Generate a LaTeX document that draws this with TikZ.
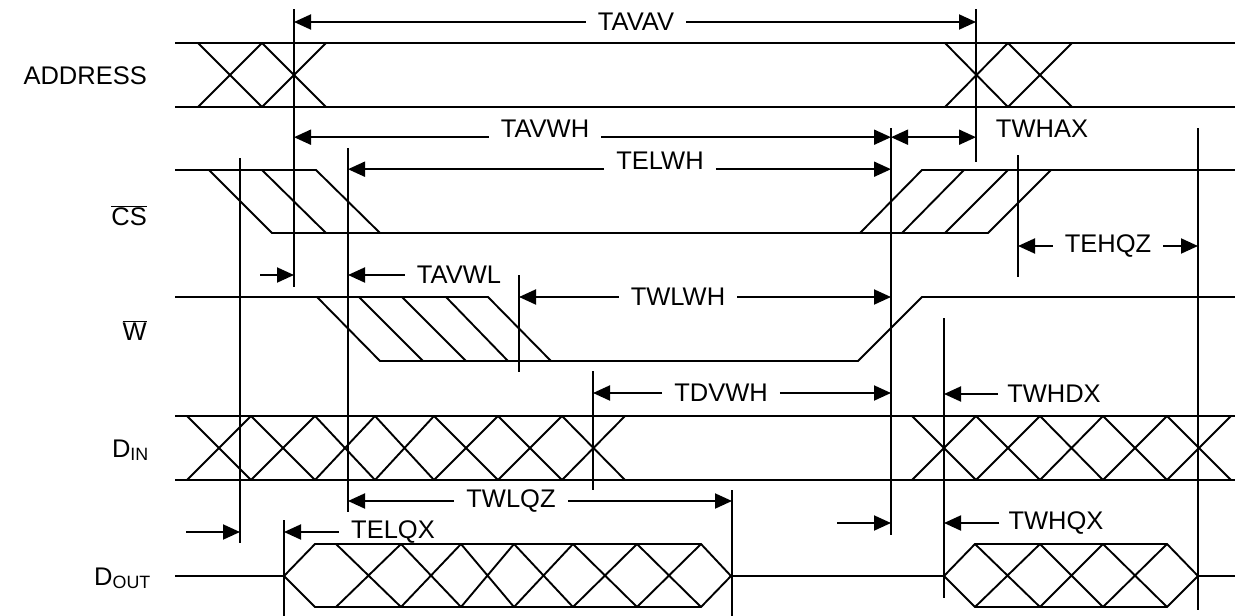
\documentclass[tikz,border=0pt]{standalone}
\usepackage{fontspec}
\setmainfont{Liberation Sans}
\usetikzlibrary{arrows.meta}

\begin{document}
\begin{tikzpicture}[
  x=1pt, y=-1pt,
  font=\fontsize{25.5}{30}\selectfont,
  wave/.style={line width=1.9pt},
  arr/.style={-{Triangle[length=17pt,width=15pt]}, line width=1.9pt},
  arrboth/.style={{Triangle[length=17pt,width=15pt]}-{Triangle[length=17pt,width=15pt]}, line width=1.9pt},
  lbl/.style={inner xsep=12pt, inner ysep=0pt},
  sig/.style={anchor=base east, inner sep=0pt}
]
\useasboundingbox (0,0) rectangle (1235,616);

%% Signal names
\node[sig] (addr) at (147,84)  {ADDRESS};
\node[sig] (cs)   at (147,225) {$\overline{\mbox{CS}}$};
\node[sig] (we)   at (147,340) {$\overline{\mbox{W}}$};
\node[sig] (din)  at (149,457) {D\textsubscript{IN}};
\node[sig] (dout) at (151,585) {D\textsubscript{OUT}};

%% ADDRESS
\draw[wave] (175,43) -- (1235,43) (175,107) -- (1235,107);
\foreach \a/\b in {198/262, 262/326, 945/1008, 1008/1072}
  \draw[wave] (\a,43) -- (\b,107) (\a,107) -- (\b,43);

%% CS: falling and rising edges, hatched
\draw[wave] (175,170) -- (316,170) -- (380,233);
\draw[wave] (209,170) -- (272,233) -- (988,233) -- (1051,170);
\draw[wave] (262,170) -- (326,233);
\draw[wave] (860,233) -- (922,170) -- (1235,170);
\foreach \a/\b in {902/964, 945/1008}
  \draw[wave] (\a,233) -- (\b,170);

%% W
\draw[wave] (175,297) -- (488,297) -- (551,361);
\draw[wave] (317,297) -- (380,361) -- (858,361) -- (922,297) -- (1235,297);
\foreach \a/\b in {359/423, 402/466, 446/508}
  \draw[wave] (\a,297) -- (\b,361);

%% DIN
\draw[wave] (175,416) -- (1235,416) (175,480) -- (1235,480);
\foreach \a/\b in {187/251, 251/315, 315/375, 375/434, 434/498, 498/562, 562/625,
                   912/976, 976/1040, 1040/1103, 1103/1167, 1167/1231}
  \draw[wave] (\a,416) -- (\b,480) (\a,480) -- (\b,416);

%% DOUT
\draw[wave] (175,576) -- (284,576) -- (315,544) -- (701,544) -- (731,576)
  -- (944,576) -- (975,544) -- (1167,544) -- (1198,576) -- (1235,576);
\draw[wave] (284,576) -- (315,607) -- (701,607) -- (731,576);
\draw[wave] (944,576) -- (975,607) -- (1167,607) -- (1198,576);
\foreach \a/\b in {336/401, 401/461, 461/514, 514/573, 573/637, 637/701,
                   975/1040, 1040/1103, 1103/1167}
  \draw[wave] (\a,544) -- (\b,607) (\a,607) -- (\b,544);

%% Timing reference lines
\foreach \n/\x/\a/\b in {mAv/294/9/287, mAn/976/9/162, mWh/891/128/535,
                         mEl/348/148/512, mEs/240/158/543, mWl/519/275/372,
                         mDv/593/371/490, mEh/1018/155/277, mQo/1198/128/610,
                         mWd/944/318/598, mQz/732/490/616, mQx/284/520/616} {
  \coordinate (\n) at (\x,\a);
  \draw[wave] (\x,\a) -- (\x,\b);
}

%% Timing labels
\node[lbl] (tavav) at (636,22) {TAVAV};
\node[lbl, anchor=base] (tavwh) at (545,137) {TAVWH};
\node[lbl, anchor=base] (twhax) at (1042,137) {TWHAX};
\node[lbl, anchor=base] (telwh) at (660,169) {TELWH};
\node[lbl] (tehqz) at (1108,246) {TEHQZ};
\node[lbl] (tavwl) at (459,275) {TAVWL};
\node[lbl] (twlwh) at (678,297) {TWLWH};
\node[lbl] (tdvwh) at (721,393) {TDVWH};
\node[lbl, inner xsep=9pt] (twhdx) at (1054,394) {TWHDX};
\node[lbl] (twlqz) at (511,501) {TWLQZ};
\node[lbl] (telqx) at (393,532) {TELQX};
\node[lbl, inner xsep=9pt] (twhqx) at (1056,523) {TWHQX};

%% Dimension arrows
\draw[arr] (tavav.west) -- (tavav.west -| mAv);
\draw[arr] (tavav.east) -- (tavav.east -| mAn);
\draw[arr] (tavwh.south west) -- (tavwh.south west -| mAv);
\draw[arr] (tavwh.south east) -- (tavwh.south east -| mWh);
\draw[arrboth] (tavwh.south -| mWh) -- (tavwh.south -| mAn);
\draw[arr] (telwh.south west) -- (telwh.south west -| mEl);
\draw[arr] (telwh.south east) -- (telwh.south east -| mWh);
\draw[arr] (tehqz.west) -- (tehqz.west -| mEh);
\draw[arr] (tehqz.east) -- (tehqz.east -| mQo);
\draw[arr] (260,275) -- (tavwl.west -| mAv);
\draw[arr] (tavwl.west) -- (tavwl.west -| mEl);
\draw[arr] (twlwh.west) -- (twlwh.west -| mWl);
\draw[arr] (twlwh.east) -- (twlwh.east -| mWh);
\draw[arr] (tdvwh.west) -- (tdvwh.west -| mDv);
\draw[arr] (tdvwh.east) -- (tdvwh.east -| mWh);
\draw[arr] (twhdx.west) -- (twhdx.west -| mWd);
\draw[arr] (twlqz.west) -- (twlqz.west -| mEl);
\draw[arr] (twlqz.east) -- (twlqz.east -| mQz);
\draw[arr] (186,532) -- (telqx.west -| mEs);
\draw[arr] (telqx.west) -- (telqx.west -| mQx);
\draw[arr] (837,523) -- (twhqx.west -| mWh);
\draw[arr] (twhqx.west) -- (twhqx.west -| mWd);
\end{tikzpicture}
\end{document}
